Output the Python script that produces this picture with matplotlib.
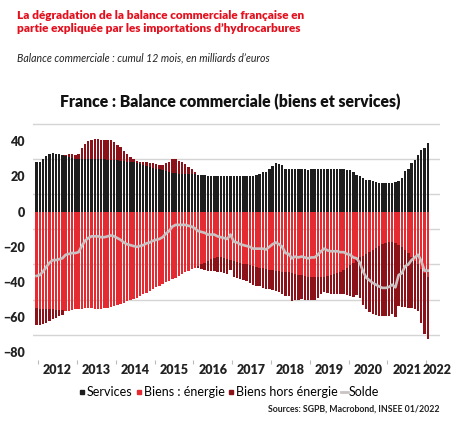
"""France : balance commerciale (biens et services), cumul 12 mois, Md EUR.

Stacked monthly bars (services / energy / non-energy goods) + trade balance line.

    python3 plot.py
"""

import matplotlib

matplotlib.use("Agg")
import matplotlib.pyplot as plt  # noqa: E402
import numpy as np  # noqa: E402
from matplotlib.lines import Line2D  # noqa: E402

# monthly values, first bar = Dec 2011, last = Jan 2022
services = [
    28, 28.5, 30, 31.5, 33, 33.5, 33, 32.5, 32, 31.5, 31, 30.5, 30,
    30, 30, 30, 30, 30, 30, 30, 30, 30, 29.5, 29.5, 29.5,
    29.5, 29, 29, 28.5, 28, 28, 27.5, 27, 26.5, 26, 25.5, 25,
    24.5, 24, 23.5, 23, 22.5, 22, 22, 21.5, 21.5, 21.5, 21.5, 21.5,
    21.5, 21, 21, 21, 20.5, 20.5, 20.5, 20, 20, 20, 20, 20,
    20, 20, 20, 20, 20, 20.5, 20.5, 21, 21.5, 22.5, 22.5, 24,
    26, 27.5, 27, 26.5, 24.5, 24, 24, 24.5, 24, 24, 24, 23.5,
    24, 24, 24.5, 24.5, 24.5, 24, 24, 24, 24, 24, 24, 23.5,
    23.5, 22.5, 21, 20, 19, 18, 18, 17.5, 17, 16.5, 16.2, 16.2,
    16.2, 16.5, 17, 17.5, 19, 23, 24.5, 27.5, 29.5, 32, 35, 36,
    39,
]
energie = [
    -55, -55.5, -55.5, -55.5, -55.5, -55.5, -56, -56, -56, -56.5, -56.5, -56, -55.5,
    -55.5, -55.5, -55, -55, -55, -55.5, -55.5, -55.5, -55, -54.5, -54, -53.5,
    -53, -52.5, -52, -51, -50, -49.5, -49, -48, -47, -46, -45, -44,
    -43, -42, -41, -40, -39.5, -38.5, -37.5, -36.5, -35.5, -34.5, -33.5, -32.5,
    -32, -31, -30, -29, -28, -27, -26.5, -26, -26, -26.5, -27, -27.5,
    -28, -28.5, -29, -29.5, -30, -30.5, -31, -31.5, -32, -32, -32.5, -33,
    -33, -33.5, -33.5, -34, -34, -34.5, -35, -35.5, -36, -36, -36.5, -37,
    -37, -37, -37, -37, -37, -36.5, -36, -35.5, -35, -34, -33, -32,
    -30.5, -29, -27.5, -26, -25, -24, -23, -21.5, -20.5, -19.5, -18.5, -18,
    -17.5, -17.5, -18, -19, -20, -21.5, -23.5, -26, -28, -30, -32.5, -35,
    -37,
]
hors_energie = [
    -9.5, -9, -8.5, -7.5, -6.5, -5.5, -4.5, -3.5, -2.5, 0.5, 1.5, 2, 2,
    2.5, 6, 8.5, 10, 11, 11.5, 11.5, 11, 10.5, 11, 11, 10,
    8.5, 7.5, 5.5, 4, 3, 2, 1.5, 1.5, 1.5, 2, 2, 2.5,
    2.5, 2.5, 3, 4.5, 6, 8, 8, 7.5, 6.5, 5.5, 4, 2.5,
    1, -1, -2.5, -4, -5.5, -6.5, -7, -8, -8.5, -8.5, -8.5, -5.5,
    -9, -9, -9.5, -9.5, -9.5, -10, -10.5, -10.5, -10.5, -11.5, -11.5, -11,
    -11.5, -11.5, -12, -12.5, -14, -13.5, -15.5, -14.5, -14, -13.5, -13.5, -13,
    -13, -13, -12, -10, -8.5, -9.5, -10.5, -11, -11.5, -13, -14, -15.5,
    -17.5, -19.5, -20, -23, -28, -31.5, -34, -36.5, -38, -39.5, -41, -41.5,
    -41.5, -40.5, -42, -34.5, -34, -32.5, -31, -29, -27.5, -26.5, -30.5, -34.5,
    -35.5,
]
years = [str(y) for y in range(2012, 2023)]

S = np.array(services, dtype=float)
E = np.array(energie, dtype=float)
H = np.array(hors_energie, dtype=float)
solde = S + E + H
x = np.arange(len(S))

C_SERV, C_ENER, C_HORS, C_SOLDE = "#1e1e1e", "#e52b32", "#8c1219", "#cbc3c3"
RED_TITLE = "#e3101e"

plt.rcParams["font.family"] = ["Lato", "DejaVu Sans"]

fig = plt.figure(figsize=(4.6, 4.28), dpi=100)
ax = fig.add_axes([33 / 460, (428 - 359.5) / 428, 407 / 460, 236.5 / 428])

w = 0.74
ax.bar(x, S, width=w, color=C_SERV, linewidth=0)
ax.bar(x, E, width=w, color=C_ENER, linewidth=0)
ax.bar(x, H, width=w, bottom=np.where(H >= 0, S, E), color=C_HORS, linewidth=0)
ax.plot(x, solde, color=C_SOLDE, lw=1.9, solid_joinstyle="round")

ax.set_xlim(-1.1, 124.8)
ax.set_ylim(-84, 50.4)
ax.set_axisbelow(True)
for s in ax.spines.values():
    s.set_visible(False)

ax.set_yticks(np.arange(-80, 41, 20))
ax.set_yticks(np.arange(-80, 51, 10), minor=True)
ax.yaxis.grid(True, which="minor", color="#d4d4d4", lw=1.0)
ax.tick_params(axis="y", which="both", length=0, pad=6, labelsize=9,
               labelcolor="#222222")
for t in ax.get_yticklabels():
    t.set_fontweight("heavy")

ax.set_xticks(0.5 + 12 * np.arange(len(years)))
ax.set_xticklabels([])
ax.tick_params(axis="x", which="major", length=3, width=0.8, color="#bbbbbb")
mids = list(6.5 + 12 * np.arange(len(years) - 1)) + [123.8]
ax.set_xticks(mids, minor=True)
ax.set_xticklabels(years, minor=True, fontweight="heavy", fontsize=9, color="#222222")
ax.tick_params(axis="x", which="minor", length=0, pad=3)

handles = [
    Line2D([], [], ls="", marker="s", ms=3.5, color=C_SERV),
    Line2D([], [], ls="", marker="s", ms=3.5, color=C_ENER),
    Line2D([], [], ls="", marker="s", ms=3.5, color=C_HORS),
    Line2D([], [], color=C_SOLDE, lw=2),
]
labels = ["Services", "Biens : énergie", "Biens hors énergie", "Solde"]
fig.legend(handles, labels, loc="center", bbox_to_anchor=(229 / 460, 1 - 392 / 428),
           ncol=4, frameon=False, fontsize=9, handlelength=0.6,
           handletextpad=0.05, columnspacing=0.25, borderaxespad=0)

fig.text(17 / 460, 1 - 10 / 428,
         "La dégradation de la balance commerciale française en\n"
         "partie expliquée par les importations d’hydrocarbures",
         ha="left", va="top", fontsize=8.5, fontweight="heavy", color=RED_TITLE,
         linespacing=1.2)
fig.text(17 / 460, 1 - 58 / 428,
         "Balance commerciale : cumul 12 mois, en milliards d’euros",
         ha="left", va="center", fontsize=7.6, style="italic", color="#222222")
fig.text(230 / 460, 1 - 102 / 428, "France : Balance commerciale (biens et services)",
         ha="center", va="center", fontsize=11.3, fontweight="heavy", color="#111111")
fig.text(440 / 460, 1 - 409 / 428, "Sources: SGPB, Macrobond, INSEE 01/2022",
         ha="right", va="center", fontsize=6.3, fontweight="bold", color="#222222")

fig.savefig("out.png", dpi=100)
plt.close(fig)
